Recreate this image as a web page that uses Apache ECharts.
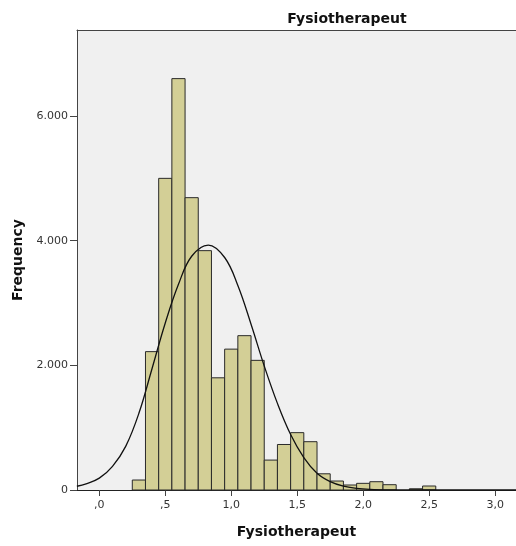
<!DOCTYPE html>
<html>
<head>
<meta charset="utf-8">
<script src="https://cdn.jsdelivr.net/npm/echarts@6/dist/echarts.min.js"></script>
<style>
  html, body { margin: 0; padding: 0; background: #fff; }
  #chart { width: 516px; height: 546px; }
</style>
</head>
<body>
<div id="chart"></div>
<script>
// histogram bins (centre of each 0,1 wide bin) and their frequencies
var binCenters = [0.3, 0.4, 0.5, 0.6, 0.7, 0.8, 0.9, 1.0, 1.1, 1.2, 1.3, 1.4, 1.5, 1.6, 1.7, 1.8, 1.9, 2.0, 2.1, 2.2, 2.3, 2.4, 2.5];
var frequencies = [160, 2220, 5000, 6600, 4690, 3840, 1800, 2260, 2476, 2080, 480, 730, 920, 775, 260, 144, 80, 107, 133, 85, 0, 20, 64];
var binWidth = 0.1;

// normal curve
var curveX = [-0.17, -0.1, 0, 0.1, 0.2, 0.3, 0.4, 0.5, 0.6, 0.7, 0.826, 0.95, 1.05, 1.15, 1.25, 1.35, 1.45, 1.55, 1.65, 1.75, 1.85, 1.95, 2.05, 2.2, 2.4, 2.6, 2.8, 3.0, 3.16];
var curveY = [60, 100, 190, 380, 700, 1230, 1950, 2680, 3300, 3750, 3930, 3730, 3280, 2660, 1990, 1390, 890, 520, 270, 135, 62, 27, 11, 3, 1, 0, 0, 0, 0];

var xTicks = [0, 0.5, 1.0, 1.5, 2.0, 2.5, 3.0];
var yTicks = [0, 2000, 4000, 6000];

var FONT = 'DejaVu Sans';

function fmtX(v) {
  return v.toFixed(1).replace('.', ',').replace(/^0,/, ',');
}
function fmtY(v) {
  if (v === 0) return '0';
  return (v / 1000).toFixed(3);
}

var chart = echarts.init(document.getElementById('chart'));

var barData = [];
for (var i = 0; i < binCenters.length; i++) {
  if (frequencies[i] > 0) barData.push([binCenters[i] - binWidth / 2, binCenters[i] + binWidth / 2, frequencies[i]]);
}
var lineData = [];
for (var j = 0; j < curveX.length; j++) lineData.push([curveX[j], curveY[j]]);

chart.setOption({
  animation: false,
  backgroundColor: '#ffffff',
  title: {
    text: 'Fysiotherapeut',
    left: 342,
    textAlign: 'center',
    top: 7,
    textStyle: { fontFamily: FONT, fontSize: 14, fontWeight: 'bold', color: '#111' }
  },
  grid: {
    left: 77, right: 0, top: 30, bottom: 56,
    show: true, backgroundColor: '#f0f0f0', borderWidth: 0
  },
  xAxis: [{
    type: 'value',
    min: -0.169, max: 3.158,
    name: 'Fysiotherapeut',
    nameLocation: 'middle',
    nameGap: 35,
    nameTextStyle: { fontFamily: FONT, fontSize: 14, fontWeight: 'bold', color: '#111' },
    splitLine: { show: false },
    axisLine: { onZero: false, lineStyle: { color: '#222', width: 1 } },
    axisTick: { customValues: xTicks, length: 6, lineStyle: { color: '#444' } },
    axisLabel: { customValues: xTicks, formatter: fmtX, fontFamily: FONT, fontSize: 11, color: '#333', margin: 10 }
  }, {
    type: 'value',
    position: 'top',
    min: -0.169, max: 3.158,
    splitLine: { show: false },
    axisLine: { show: true, onZero: false, lineStyle: { color: '#444', width: 1 } },
    axisTick: { show: false },
    axisLabel: { show: false }
  }],
  yAxis: {
    type: 'value',
    min: 0, max: 7380,
    name: 'Frequency',
    nameLocation: 'middle',
    nameGap: 52,
    nameTextStyle: { fontFamily: FONT, fontSize: 14, fontWeight: 'bold', color: '#111' },
    splitLine: { show: false },
    axisLine: { show: true, onZero: false, lineStyle: { color: '#444', width: 1 } },
    axisTick: { show: true, customValues: yTicks, length: 7, lineStyle: { color: '#444' } },
    axisLabel: { customValues: yTicks, formatter: fmtY, fontFamily: FONT, fontSize: 11, color: '#333', margin: 9 }
  },
  series: [{
    type: 'custom',
    xAxisIndex: 0,
    renderItem: function (params, api) {
      var p0 = api.coord([api.value(0), api.value(2)]);
      var p1 = api.coord([api.value(1), 0]);
      return {
        type: 'rect',
        shape: { x: p0[0], y: p0[1], width: p1[0] - p0[0], height: p1[1] - p0[1] },
        style: { fill: '#d3cf96', stroke: '#2a2a2a', lineWidth: 1 }
      };
    },
    encode: { x: [0, 1], y: 2 },
    data: barData,
    z: 2
  }, {
    type: 'line',
    xAxisIndex: 0,
    data: lineData,
    smooth: 0.4,
    showSymbol: false,
    lineStyle: { color: '#111', width: 1.3 },
    z: 3
  }]
});
</script>
</body>
</html>
